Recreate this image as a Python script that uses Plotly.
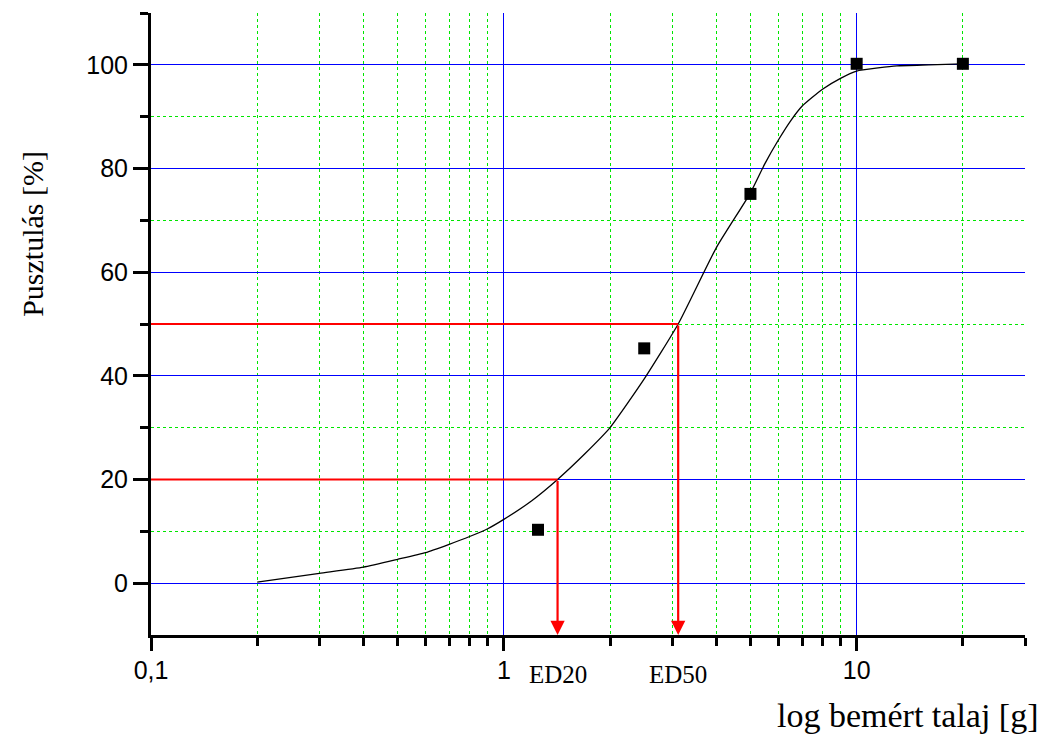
import math
import plotly.graph_objects as go

# Measured data points
dose = [1.25, 2.5, 5, 10, 20]
mortality = [10.3, 45.3, 75.1, 100.2, 100.2]

# Fitted curve
curve_x = [0.2, 0.3, 0.4, 0.5, 0.6, 0.7, 0.8, 0.9, 1.0, 1.2, 1.42, 1.7, 2.0, 2.5,
           3.12, 4.0, 5.0, 5.5, 6.0, 6.5, 7.0, 8.0, 9.0, 10, 11.5, 13, 16, 20]
curve_y = [0.2, 1.9, 3.1, 4.6, 5.9, 7.5, 9.0, 10.5, 12.3, 15.9, 20.0, 25.0, 30.0, 39.4,
           50.0, 64.7, 75.3, 81.0, 85.5, 89.2, 92.0, 95.3, 97.4, 98.8, 99.4, 99.8, 100.0, 100.2]

# Effective doses
ed_names = ["ED20", "ED50"]
ed_levels = [20, 50]
ed_values = [1.42, 3.12]

x_major = [0.1, 1, 10]
x_major_text = ["0,1", "1", "10"]
x_minor = [0.2, 0.3, 0.4, 0.5, 0.6, 0.7, 0.8, 0.9, 2, 3, 4, 5, 6, 7, 8, 9, 20, 30]
y_major = [0, 20, 40, 60, 80, 100]
y_minor = [10, 30, 50, 70, 90, 110]

BLUE = "#0000ff"
GREEN = "#00e600"

fig = go.Figure()

fig.add_trace(go.Scatter(x=curve_x, y=curve_y, mode="lines",
                         line=dict(color="black", width=1.3, shape="spline", smoothing=0.5),
                         showlegend=False))

for lvl, ed in zip(ed_levels, ed_values):
    fig.add_trace(go.Scatter(x=[0.1, ed], y=[lvl, lvl], mode="lines",
                             line=dict(color="red", width=2.2), showlegend=False,
                             cliponaxis=False))
    fig.add_annotation(x=math.log10(ed), y=-10, ax=math.log10(ed), ay=lvl,
                       xref="x", yref="y", axref="x", ayref="y",
                       showarrow=True, arrowhead=2, arrowsize=1.3, arrowwidth=2.2,
                       arrowcolor="red", text="", standoff=0)

fig.add_trace(go.Scatter(x=dose, y=mortality, mode="markers",
                         marker=dict(symbol="square", size=12, color="black"),
                         showlegend=False))

for name, ed in zip(ed_names, ed_values):
    fig.add_annotation(x=math.log10(ed), y=-0.064, xref="x", yref="paper",
                       text=name, showarrow=False, xanchor="center", yanchor="middle",
                       font=dict(family="Liberation Serif", size=25, color="black"))

fig.add_annotation(x=1.018, y=-0.130, xref="paper", yref="paper",
                   text="log bemért talaj [g]", showarrow=False,
                   xanchor="right", yanchor="middle",
                   font=dict(family="Liberation Serif", size=34, color="black"))
fig.add_annotation(x=-0.135, y=0.645, xref="paper", yref="paper",
                   text="Pusztulás [%]", showarrow=False, textangle=-90,
                   xanchor="center", yanchor="middle",
                   font=dict(family="Liberation Serif", size=30, color="black"))

fig.update_xaxes(type="log", range=[-1, math.log10(30)],
                 tickmode="array", tickvals=x_major, ticktext=x_major_text,
                 ticks="outside", ticklen=13, tickwidth=2.5, tickcolor="black",
                 ticklabelstandoff=-2,
                 showline=True, linecolor="black", linewidth=3,
                 showgrid=True, gridcolor=BLUE, gridwidth=1,
                 zeroline=False,
                 tickfont=dict(family="Liberation Sans", size=25, color="black"),
                 minor=dict(tickmode="array", tickvals=x_minor, ticks="outside",
                            ticklen=8, tickwidth=2.5, tickcolor="black",
                            showgrid=True, gridcolor=GREEN, gridwidth=1, griddash="dot"))
fig.update_yaxes(range=[-10, 110],
                 tickmode="array", tickvals=y_major,
                 ticks="outside", ticklen=15, tickwidth=2.5, tickcolor="black",
                 showline=True, linecolor="black", linewidth=3,
                 showgrid=True, gridcolor=BLUE, gridwidth=1,
                 zeroline=False,
                 tickfont=dict(family="Liberation Sans", size=25, color="black"),
                 minor=dict(tickmode="array", tickvals=y_minor, ticks="outside",
                            ticklen=8, tickwidth=2.5, tickcolor="black",
                            showgrid=True, gridcolor=GREEN, gridwidth=1, griddash="dot"))

# page body has an 8px margin: size and margins compensate so the plot area
# lands at x 151..1025, y 13..635 in the browser window
fig.update_layout(width=1044, height=727,
                  margin=dict(l=143, r=27, t=5, b=100),
                  plot_bgcolor="white", paper_bgcolor="white",
                  showlegend=False)

fig.write_html("out.html")
